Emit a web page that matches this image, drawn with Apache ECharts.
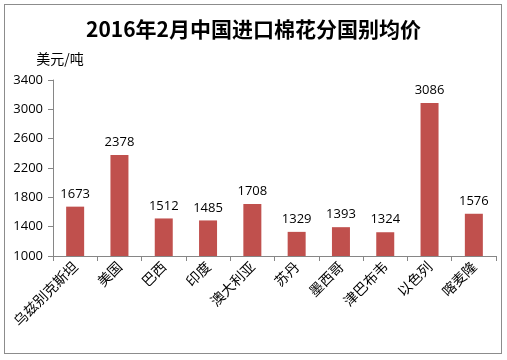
<!DOCTYPE html>
<html><head><meta charset="utf-8">
<script src="https://cdn.jsdelivr.net/npm/echarts@6/dist/echarts.min.js"></script>
<style>html,body{margin:0;padding:0;background:#fff}#c{width:507px;height:360px}
#frame{position:absolute;left:4px;top:4px;width:498px;height:350px;border:1px solid #8c8c8c;box-sizing:border-box;pointer-events:none}</style>
</head><body><div id="c"></div><div id="frame"></div>
<script>
const title = '2016年2月中国进口棉花分国别均价';
const unit = '美元/吨';
const categories = ['乌兹别克斯坦','美国','巴西','印度','澳大利亚','苏丹','墨西哥','津巴布韦','以色列','喀麦隆'];
const prices = [1673, 2378, 1512, 1485, 1708, 1329, 1393, 1324, 3086, 1576];
const yMin = 1000, yMax = 3400, yStep = 400;

const chart = echarts.init(document.getElementById('c'), null, {renderer:'canvas'});
chart.setOption({
  animation:false,
  backgroundColor:'#fff',
  title:{text:title,left:'center',top:14,textStyle:{fontFamily:'"Noto Sans CJK SC"',fontSize:21,fontWeight:'bold',color:'#000'}},
  grid:{left:53,right:11,top:80,bottom:104,containLabel:false},
  xAxis:{type:'category',data:categories,
    axisLine:{lineStyle:{color:'#868686'}},
    axisTick:{show:true,alignWithLabel:false,length:5,lineStyle:{color:'#868686'}},
    axisLabel:{rotate:45,interval:0,fontFamily:'"Noto Sans CJK SC"',fontSize:14,color:'#000',margin:8}},
  yAxis:{type:'value',min:yMin,max:yMax,interval:yStep,name:unit,
    nameLocation:'end',nameGap:14,nameTextStyle:{fontFamily:'"Noto Sans CJK SC"',fontSize:14,color:'#000',align:'center',padding:[0,0,0,14]},
    axisLine:{show:true,lineStyle:{color:'#868686'}},
    axisTick:{show:true,length:5,inside:false,lineStyle:{color:'#868686'}},
    splitLine:{show:false},
    axisLabel:{fontFamily:'"Open Sans", "Liberation Sans"',fontSize:13,color:'#000',margin:10,formatter:v=>String(v)}},
  series:[{type:'bar',data:prices,barWidth:18,
    itemStyle:{color:'#C0504D'},
    label:{show:true,position:'top',distance:6,fontFamily:'"Open Sans", "Liberation Sans"',fontSize:13,color:'#000'}}]
});
</script></body></html>
